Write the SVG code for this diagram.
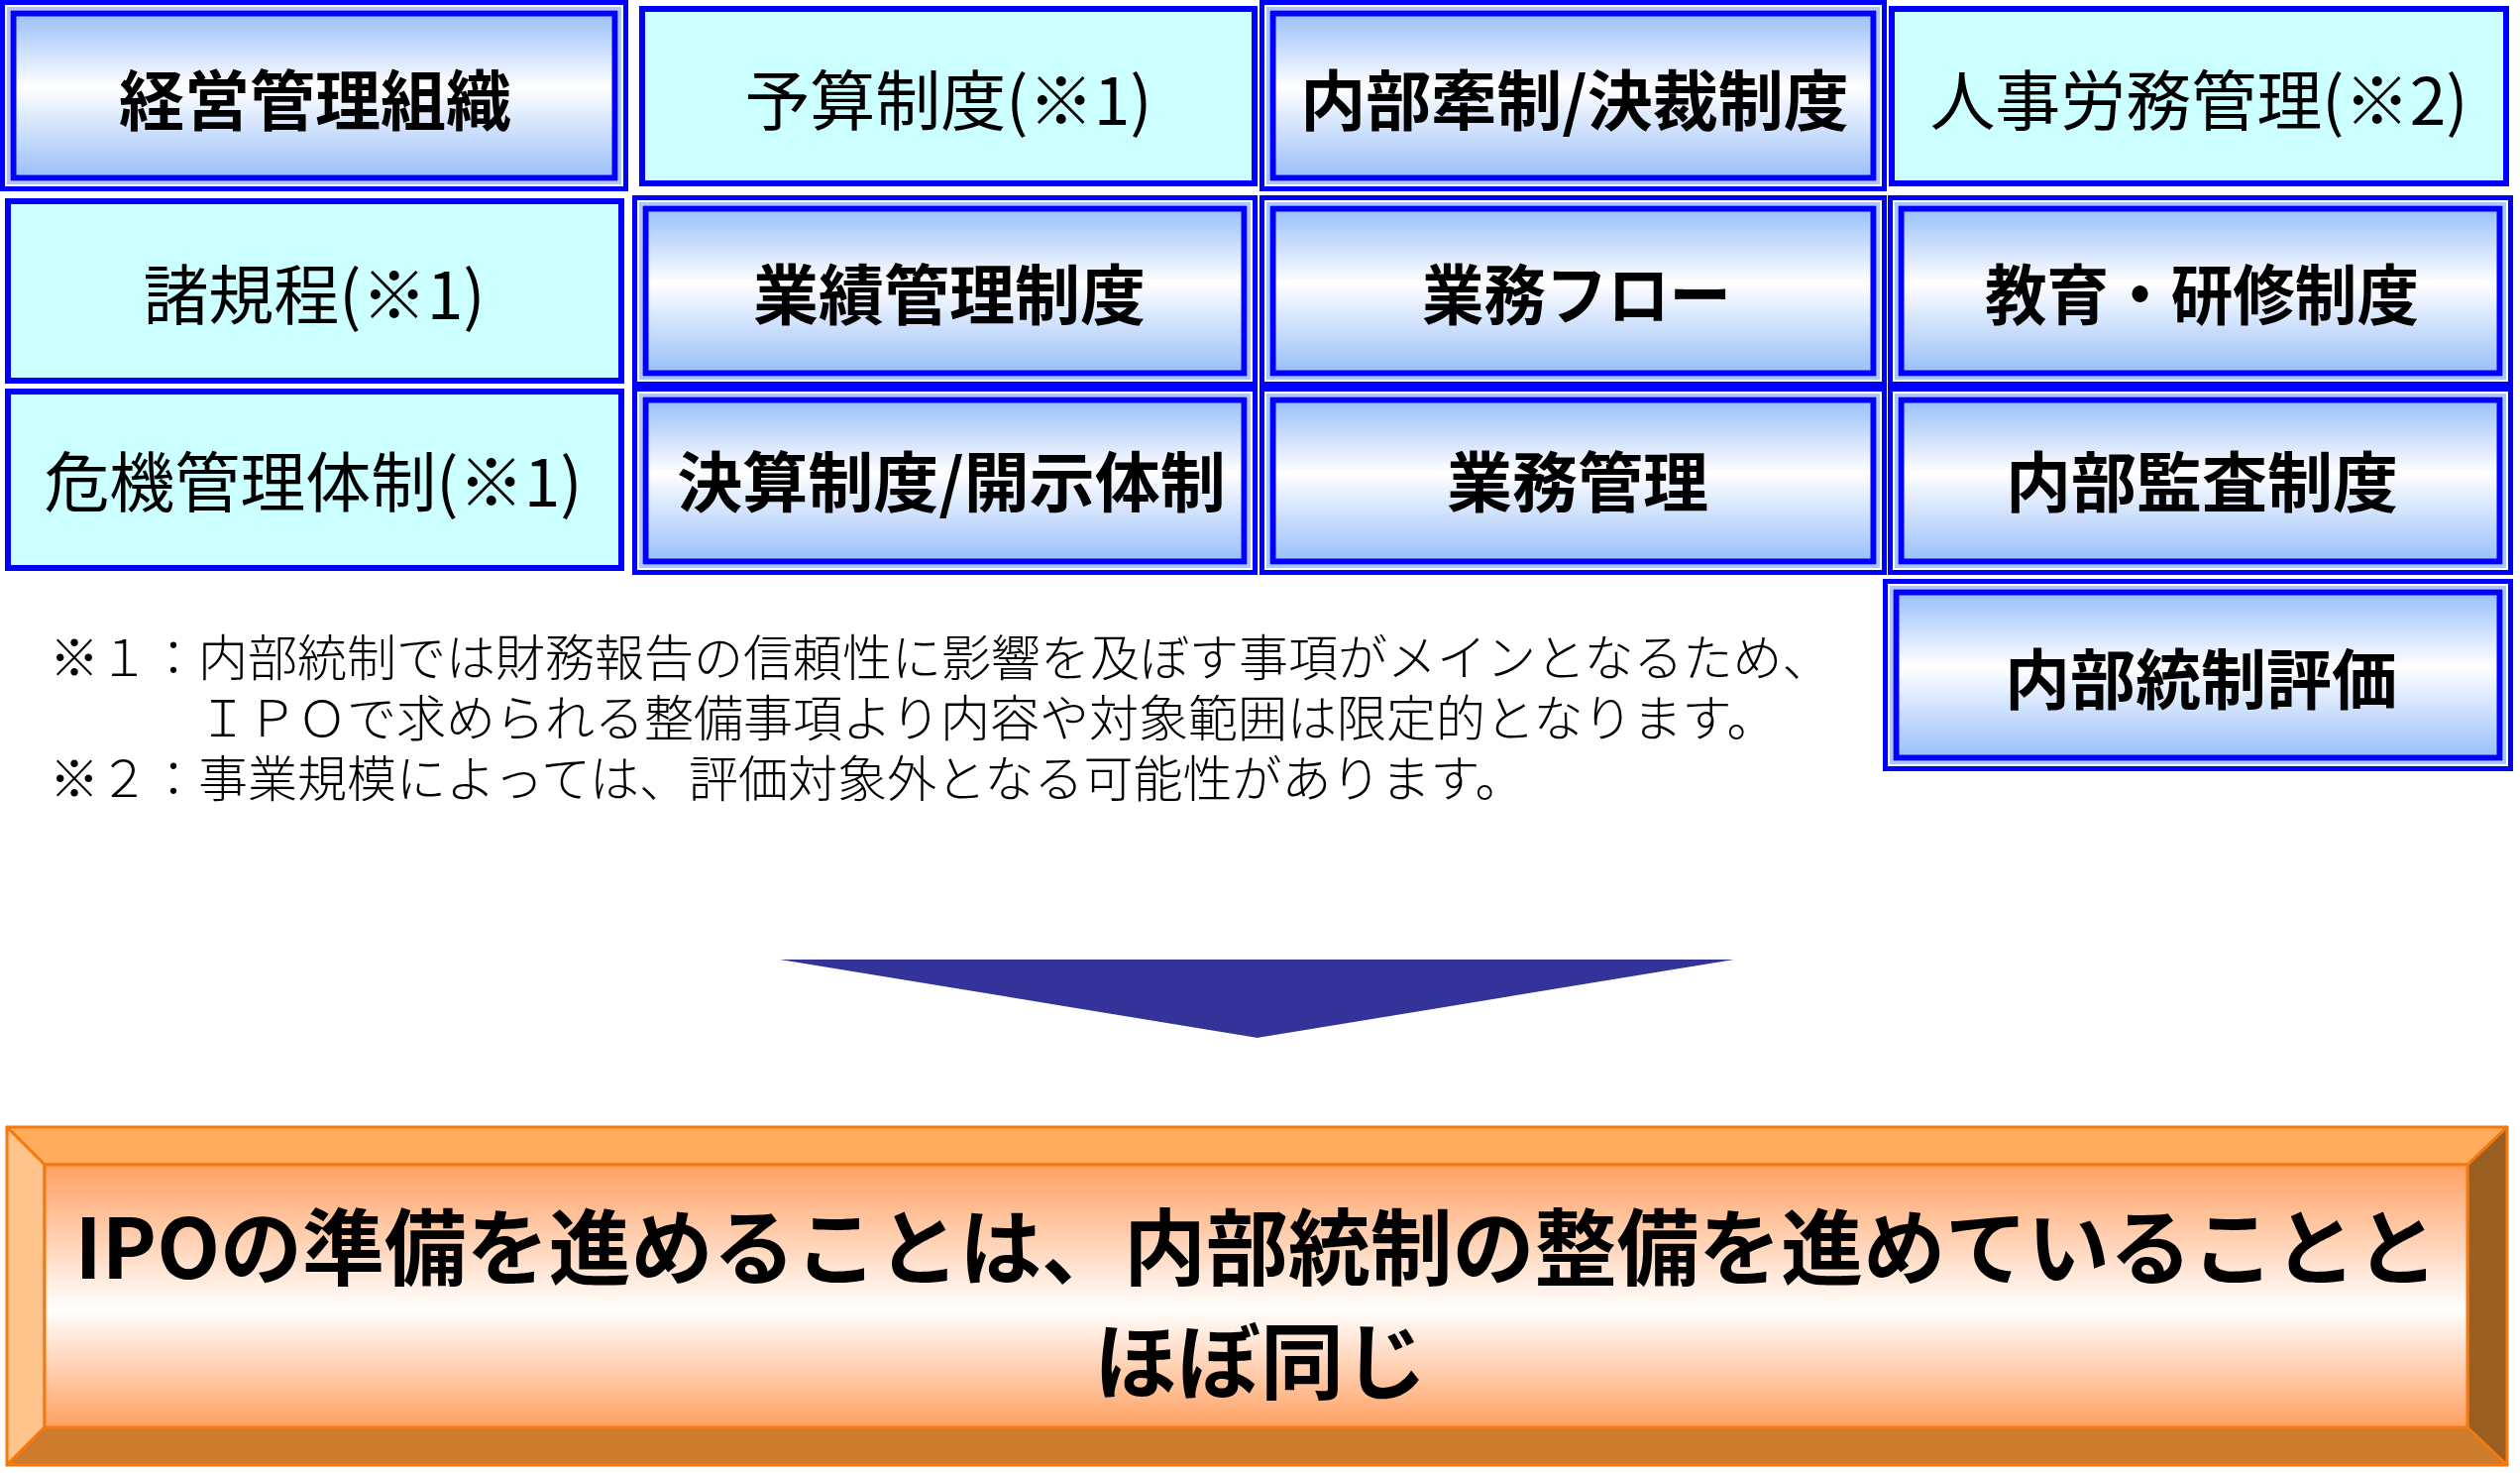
<svg xmlns="http://www.w3.org/2000/svg" width="2543" height="1486" viewBox="0 0 2543 1486">
<defs>
<linearGradient id="gBlue" x1="0" y1="0" x2="0" y2="1">
<stop offset="0" stop-color="#98bff9"/>
<stop offset="0.45" stop-color="#ffffff"/>
<stop offset="1" stop-color="#98bff9"/>
</linearGradient>
<linearGradient id="gOrange" x1="0" y1="0" x2="0" y2="1">
<stop offset="0" stop-color="#ffa062"/>
<stop offset="0.55" stop-color="#ffffff"/>
<stop offset="1" stop-color="#ffa062"/>
</linearGradient>
<style>
.ob{fill:none;stroke:#0000ff;stroke-width:5}
.lt{fill:none;stroke:#a8c6ff;stroke-width:3}
.ib{fill:url(#gBlue);stroke:#0000ff;stroke-width:6}
.cy{fill:#ccffff;stroke:#0000ff;stroke-width:6}
.bl{font-family:"Noto Sans CJK JP","Liberation Sans",sans-serif;font-weight:700;font-size:66px;fill:#000;text-anchor:middle}
.rg{font-family:"Noto Sans CJK JP","Liberation Sans",sans-serif;font-weight:400;font-size:66px;fill:#000;text-anchor:middle}
.fn{font-family:"Liberation Serif","Noto Sans CJK JP",serif;font-weight:300;font-size:50px;fill:#000}
.big{font-family:"Noto Sans CJK JP","Liberation Sans",sans-serif;font-weight:700;font-size:84px;fill:#000;text-anchor:middle}
.bev{stroke:#f37a12;stroke-width:3;stroke-linejoin:round}
</style>
</defs>
<rect width="2543" height="1486" fill="#ffffff"/>

<g id="n-keiei">
<rect class="ob" x="2.5" y="2.5" width="629" height="188"/>
<rect class="lt" x="8.5" y="8.5" width="617" height="176"/>
<rect class="ib" x="13.5" y="13.5" width="607" height="166"/>
<text class="bl" x="318" y="126">経営管理組織</text>
</g>

<g id="n-yosan">
<rect class="cy" x="648" y="9" width="618" height="176"/>
<text class="rg" x="957" y="126">予算制度(※1)</text>
</g>

<g id="n-naibu-kensei">
<rect class="ob" x="1273.5" y="2.5" width="628" height="188"/>
<rect class="lt" x="1279.5" y="8.5" width="616" height="176"/>
<rect class="ib" x="1284.5" y="13.5" width="606" height="166"/>
<text class="bl" x="1589" y="126">内部牽制/決裁制度</text>
</g>

<g id="n-jinji">
<rect class="cy" x="1909" y="9" width="620" height="176"/>
<text class="rg" x="2219" y="126">人事労務管理(※2)</text>
</g>

<g id="n-kitei">
<rect class="cy" x="8" y="203" width="619" height="181"/>
<text class="rg" x="317" y="322">諸規程(※1)</text>
</g>

<g id="n-gyoseki">
<rect class="ob" x="640.5" y="199.5" width="626" height="188"/>
<rect class="lt" x="646.5" y="205.5" width="614" height="176"/>
<rect class="ib" x="651.5" y="210.5" width="604" height="166"/>
<text class="bl" x="958" y="322">業績管理制度</text>
</g>

<g id="n-flow">
<rect class="ob" x="1273.5" y="199.5" width="628" height="188"/>
<rect class="lt" x="1279.5" y="205.5" width="616" height="176"/>
<rect class="ib" x="1284.5" y="210.5" width="606" height="166"/>
<text class="bl" x="1591" y="322" textLength="312" lengthAdjust="spacingAndGlyphs">業務フロー</text>
</g>

<g id="n-kyoiku">
<rect class="ob" x="1907.5" y="199.5" width="626" height="188"/>
<rect class="lt" x="1913.5" y="205.5" width="614" height="176"/>
<rect class="ib" x="1918.5" y="210.5" width="604" height="166"/>
<text class="bl" x="2222" y="322" textLength="438" lengthAdjust="spacingAndGlyphs">教育・研修制度</text>
</g>

<g id="n-kiki">
<rect class="cy" x="8" y="395" width="619" height="178"/>
<text class="rg" x="316" y="511">危機管理体制(※1)</text>
</g>

<g id="n-kessan">
<rect class="ob" x="640.5" y="392.5" width="626" height="185"/>
<rect class="lt" x="646.5" y="398.5" width="614" height="173"/>
<rect class="ib" x="651.5" y="403.5" width="604" height="163"/>
<text class="bl" x="960" y="511">決算制度/開示体制</text>
</g>

<g id="n-gyomu">
<rect class="ob" x="1273.5" y="392.5" width="628" height="185"/>
<rect class="lt" x="1279.5" y="398.5" width="616" height="173"/>
<rect class="ib" x="1284.5" y="403.5" width="606" height="163"/>
<text class="bl" x="1592" y="511">業務管理</text>
</g>

<g id="n-kansa">
<rect class="ob" x="1907.5" y="392.5" width="626" height="185"/>
<rect class="lt" x="1913.5" y="398.5" width="614" height="173"/>
<rect class="ib" x="1918.5" y="403.5" width="604" height="163"/>
<text class="bl" x="2222" y="511">内部監査制度</text>
</g>

<g id="n-hyoka">
<rect class="ob" x="1902.5" y="586.5" width="631" height="189"/>
<rect class="lt" x="1908.5" y="592.5" width="619" height="177"/>
<rect class="ib" x="1913.5" y="597.5" width="609" height="167"/>
<text class="bl" x="2221" y="710">内部統制評価</text>
</g>

<g id="notes">
<text class="fn" x="50" y="682">※１：内部統制では財務報告の信頼性に影響を及ぼす事項がメインとなるため、</text>
<text class="fn" x="200" y="743">ＩＰＯで求められる整備事項より内容や対象範囲は限定的となります。</text>
<text class="fn" x="50" y="804">※２：事業規模によっては、評価対象外となる可能性があります。</text>
</g>

<g id="connectors">
<polygon points="787,968 1750,968 1269,1047" fill="#333399"/>
</g>

<g id="n-conclusion">
<polygon class="bev" points="7,1137 2530,1137 2490,1175 45,1175" fill="#ffad5c"/>
<polygon class="bev" points="7,1137 45,1175 45,1440 7,1478" fill="#ffc48c"/>
<polygon class="bev" points="7,1478 45,1440 2490,1440 2530,1478" fill="#cd7c2c"/>
<polygon class="bev" points="2530,1137 2530,1478 2490,1440 2490,1175" fill="#9a5e20"/>
<rect class="bev" x="45" y="1175" width="2445" height="265" fill="url(#gOrange)"/>
<text class="big" x="1268" y="1290" textLength="2385" lengthAdjust="spacingAndGlyphs">IPOの準備を進めることは、内部統制の整備を進めていることと</text>
<text class="big" x="1272" y="1405">ほぼ同じ</text>
</g>
</svg>
